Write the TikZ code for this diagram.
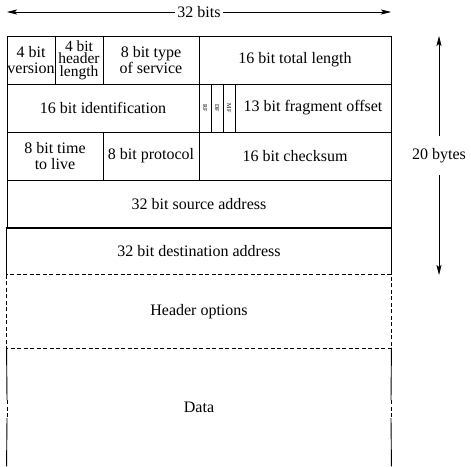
\documentclass[tikz,border=0pt]{standalone}
\usepackage{fontspec}
\setmainfont{Liberation Serif}
\usetikzlibrary{arrows.meta}
\begin{document}
\begin{tikzpicture}[x=1pt,y=-1pt,
  line width=0.9pt,
  txt/.style={font=\fontsize{16}{16.5}\selectfont},
  cell/.style 2 args={inner sep=0pt, align=center, txt,
    minimum width=#1pt, minimum height=#2pt},
  field/.style 2 args={cell={#1}{#2}, draw},
  flag/.style={field={12}{48}, font=\fontsize{6}{6}\selectfont},
  dashline/.style={dash pattern=on 4pt off 2.5pt},
  dim/.style={{Stealth[length=10pt,width=5pt,inset=2pt]}-{Stealth[length=10pt,width=5pt,inset=2pt]}, line width=0.7pt},
  dimlabel/.style={fill=white, txt, inner xsep=2.5pt}]
\useasboundingbox (0,0) rectangle (471,466);

% row 1
\node[field={48}{48}] (ver) at (31,60) {4 bit\\[-1pt]version};
\node[field={48}{48}, font=\fontsize{15.5}{12.5}\selectfont] (hlen) at (79,60) {4 bit\\header\\length};
\node[field={96}{48}] (tos) at (151,60) {8 bit type\\of service};
\node[field={192}{48}] (tot) at (295,60) {16 bit total length};
% row 2
\node[field={192}{48}] (ident) at (103,108) {16 bit identification};
\node[flag] (rf) at (205,108) {\rotatebox{-90}{RF}};
\node[flag] (df) at (217,108) {\rotatebox{-90}{DF}};
\node[flag] (mf) at (229,108) {\rotatebox{-90}{MF}};
\node[field={156}{48}] (frag) at (313,108) {13 bit fragment offset};
% row 3
\node[field={96}{48}] (ttl) at (55,156) {8 bit time\\to live};
\node[field={96}{48}] (proto) at (151,156) {8 bit protocol};
\node[field={192}{48}] (csum) at (295,156) {16 bit checksum};
% row 4
\node[field={384}{48}] (src) at (199,204) {32 bit source address};
% row 5 (bottom edge left to the options box)
\node[cell={384}{47}] (dst) at (199,251.5) {32 bit destination address};
\draw (dst.south west) -- (dst.north west) -- (dst.north east) -- (dst.south east);
% options
\node[cell={384}{73}] (opt) at (199,311.5) {Header options};
\draw[dashline] (opt.north west) rectangle (opt.south east);
% data
\node[cell={384}{118}] (data) at (199,407) {Data};
\coordinate (dl1) at (7,400);  \coordinate (dl2) at (7,418);
\coordinate (dr1) at (391,400); \coordinate (dr2) at (391,418);
\draw (data.north west) -- (dl1);
\draw[dashline] (dl1) -- (dl2);
\draw (dl2) -- (data.south west);
\draw (data.north east) -- (dr1);
\draw[dashline] (dr1) -- (dr2);
\draw (dr2) -- (data.south east);

% dimensions
\coordinate (wl) at (7,12);
\coordinate (wr) at (391,12);
\draw[dim] (wl) -- node[dimlabel] (wlab) {32 bits} (wr);
\coordinate (ht) at (439,36);
\coordinate (hb) at (439,275);
\draw[dim] (ht) -- node[dimlabel, inner ysep=12pt] (hlab) {20 bytes} (hb);
\end{tikzpicture}
\end{document}
